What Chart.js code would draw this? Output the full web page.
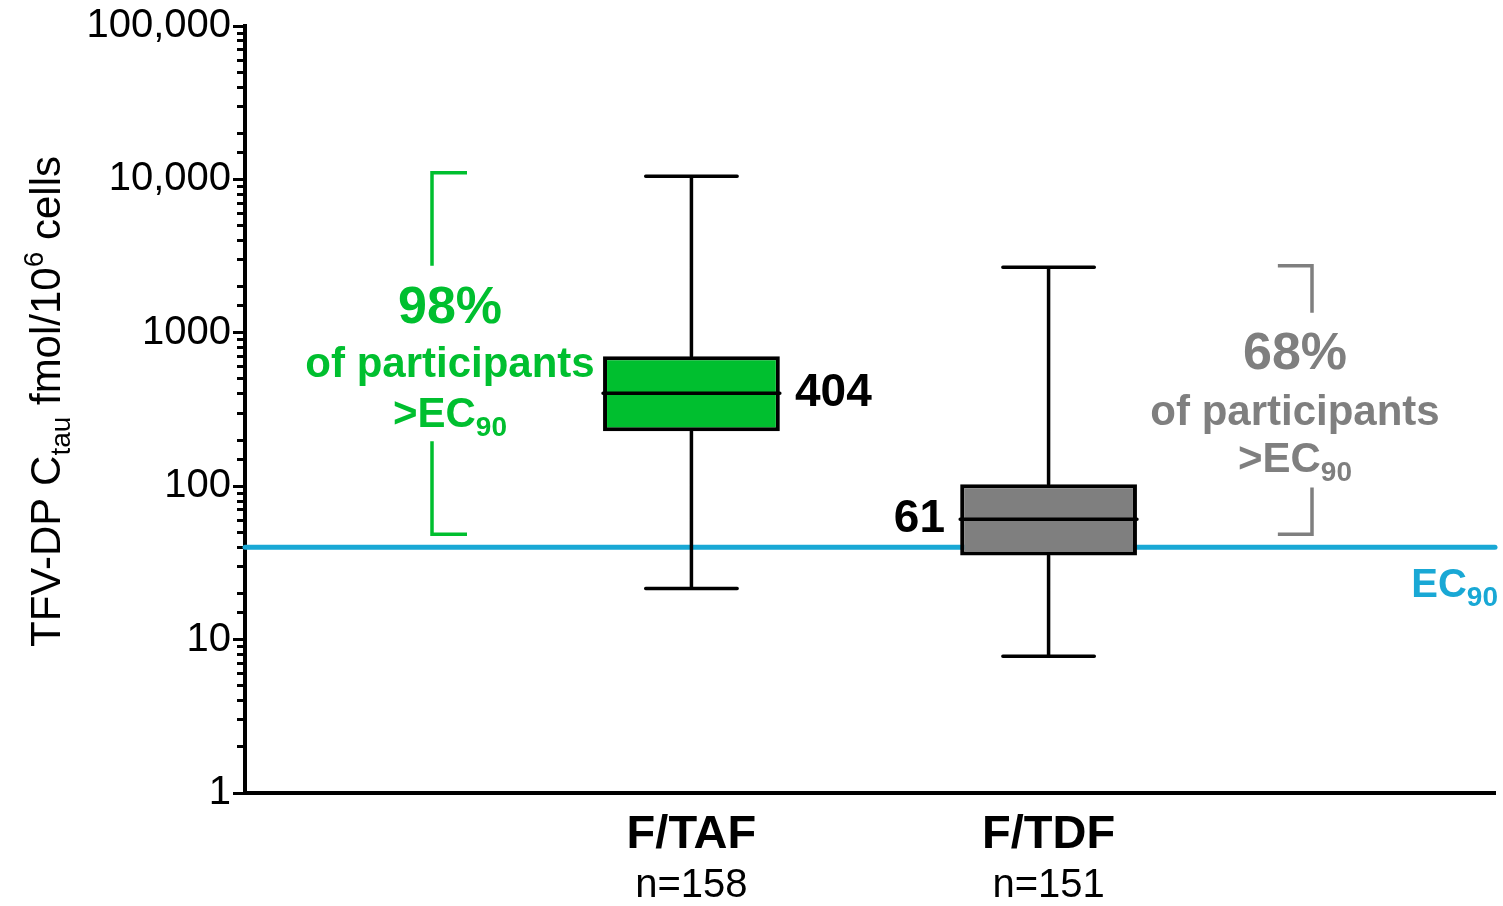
<!DOCTYPE html>
<html>
<head>
<meta charset="utf-8">
<script src="https://cdn.jsdelivr.net/npm/chart.js@4.4.1/dist/chart.umd.min.js"></script>
<style>
  html, body { margin: 0; padding: 0; background: #fff; }
  #wrap { width: 1503px; height: 906px; }
</style>
</head>
<body>
<div id="wrap"><canvas id="chart"></canvas></div>
<script>
const categories = ["F/TAF", "F/TDF"];
const sampleSizes = ["n=158", "n=151"];
const whiskerLow = [21.5, 7.8];
const q1 = [228, 35.3];
const median = [404, 61];
const q3 = [703, 103];
const whiskerHigh = [10500, 2670];
const ec90 = 40;
const pctAbove = ["98%", "68%"];
const yTickLabels = ["1", "10", "100", "1000", "10,000", "100,000"];

const FONT = "'Liberation Sans', Arial, sans-serif";
const GREEN = "#00bf2f";
const GRAY = "#7f7f7f";
const BLUE = "#19a8d5";
const boxColors = [GREEN, GRAY];

// groups sit on a plain linear x axis (0..3.5)
const X_MAX = 3.5;
const xPos = [1.25, 2.25];
const capHalf = 0.128;
const boxHalf = 0.2475;

// brackets next to each group, spanning the share of participants above EC90
const brackets = [
  { color: GREEN, x: 0.5236, tipX: 0.6216, top: 11040, gapTop: 2738, gapBottom: 196, bottom: 48.6 },
  { color: GRAY, x: 2.9876, tipX: 2.892, top: 2738, gapTop: 1353, gapBottom: 98, bottom: 48.6 }
];
const notes = [
  { color: GREEN, x: 0.574, lines: [
    { parts: [{ t: pctAbove[0], size: 52 }], y: 1165 },
    { parts: [{ t: "of participants", size: 42 }], y: 518 },
    { parts: [{ t: ">EC", size: 42 }, { t: "90", size: 28, dy: 9 }], y: 241.5 }
  ]},
  { color: GRAY, x: 2.94, lines: [
    { parts: [{ t: pctAbove[1], size: 52 }], y: 585 },
    { parts: [{ t: "of participants", size: 42 }], y: 249 },
    { parts: [{ t: ">EC", size: 42 }, { t: "90", size: 28, dy: 9 }], y: 123 }
  ]}
];

const isDecade = v => Math.abs(Math.log10(v) - Math.round(Math.log10(v))) < 1e-9;

// whiskers, caps and median lines as one broken line
const whiskerPts = [];
xPos.forEach((x, i) => {
  whiskerPts.push({ x, y: q3[i] }, { x, y: whiskerHigh[i] }, { x, y: null });
  whiskerPts.push({ x: x - capHalf, y: whiskerHigh[i] }, { x: x + capHalf, y: whiskerHigh[i] }, { x, y: null });
  whiskerPts.push({ x, y: q1[i] }, { x, y: whiskerLow[i] }, { x, y: null });
  whiskerPts.push({ x: x - capHalf, y: whiskerLow[i] }, { x: x + capHalf, y: whiskerLow[i] }, { x, y: null });
  whiskerPts.push({ x: x - boxHalf, y: median[i] }, { x: x + boxHalf, y: median[i] }, { x, y: null });
});

const bracketSets = brackets.map(b => ({
  type: "line",
  data: [
    { x: b.tipX, y: b.top }, { x: b.x, y: b.top }, { x: b.x, y: b.gapTop }, { x: b.x, y: null },
    { x: b.x, y: b.gapBottom }, { x: b.x, y: b.bottom }, { x: b.tipX, y: b.bottom }
  ],
  borderColor: b.color,
  borderWidth: 3.5,
  borderJoinStyle: "miter",
  pointRadius: 0,
  spanGaps: false,
  clip: false,
  order: 0
}));

function drawParts(ctx, parts, x, y, align, color) {
  const widths = parts.map(p => {
    ctx.font = "bold " + p.size + "px " + FONT;
    return ctx.measureText(p.t).width;
  });
  const total = widths.reduce((a, b) => a + b, 0);
  let cx = align === "center" ? x - total / 2 : align === "right" ? x - total : x;
  ctx.fillStyle = color;
  ctx.textAlign = "left";
  parts.forEach((p, i) => {
    ctx.font = "bold " + p.size + "px " + FONT;
    ctx.fillText(p.t, cx, y + (p.dy || 0));
    cx += widths[i];
  });
}

const textPlugin = {
  id: "notes",
  afterDraw(chart) {
    const { ctx, chartArea } = chart;
    const xs = chart.scales.x, ys = chart.scales.y;
    ctx.save();
    ctx.textBaseline = "alphabetic";
    notes.forEach(n => {
      n.lines.forEach(l => drawParts(ctx, l.parts, xs.getPixelForValue(n.x), ys.getPixelForValue(l.y), "center", n.color));
    });

    // median values beside the boxes
    ctx.textBaseline = "middle";
    drawParts(ctx, [{ t: String(median[0]), size: 46 }], xs.getPixelForValue(xPos[0] + 0.29), ys.getPixelForValue(median[0]), "left", "#000");
    drawParts(ctx, [{ t: String(median[1]), size: 46 }], xs.getPixelForValue(xPos[1] - 0.29), ys.getPixelForValue(median[1]), "right", "#000");

    // EC90 label under the line
    ctx.textBaseline = "alphabetic";
    drawParts(ctx, [{ t: "EC", size: 40 }, { t: "90", size: 28, dy: 9 }],
      xs.getPixelForValue(X_MAX) + 3, ys.getPixelForValue(18.9), "right", BLUE);

    // y axis title with sub/superscript
    const pieces = [
      { t: "TFV-DP C", size: 42, dy: 0 },
      { t: "tau", size: 28, dy: 10 },
      { t: " fmol/10", size: 42, dy: 0 },
      { t: "6", size: 28, dy: -17 },
      { t: " cells", size: 42, dy: 0 }
    ];
    ctx.translate(60, (chartArea.top + chartArea.bottom) / 2 - 8);
    ctx.rotate(-Math.PI / 2);
    const widths = pieces.map(p => { ctx.font = p.size + "px " + FONT; return ctx.measureText(p.t).width; });
    let px = -widths.reduce((a, b) => a + b, 0) / 2;
    ctx.fillStyle = "#000";
    ctx.textAlign = "left";
    pieces.forEach((p, i) => {
      ctx.font = p.size + "px " + FONT;
      ctx.fillText(p.t, px, p.dy);
      px += widths[i];
    });
    ctx.restore();
  }
};

const xTicks = s => { s.ticks = xPos.map(v => ({ value: v })); };

new Chart(document.getElementById("chart"), {
  type: "bar",
  data: {
    datasets: [
      {
        type: "line",
        label: "whiskers",
        data: whiskerPts,
        borderColor: "#000",
        borderWidth: 3.5,
        borderCapStyle: "round",
        pointRadius: 0,
        spanGaps: false,
        clip: false,
        order: 0
      },
      ...bracketSets,
      {
        type: "bar",
        label: "IQR",
        data: xPos.map((x, i) => ({ x, y: [q1[i], q3[i]] })),
        backgroundColor: boxColors,
        borderColor: "#000",
        borderWidth: 4,
        borderSkipped: false,
        barPercentage: 0.495,
        categoryPercentage: 1,
        order: 1
      },
      {
        type: "line",
        label: "EC90",
        data: [{ x: 0, y: ec90 }, { x: X_MAX, y: ec90 }],
        borderColor: BLUE,
        borderWidth: 5,
        borderCapStyle: "round",
        pointRadius: 0,
        clip: false,
        order: 2
      }
    ]
  },
  options: {
    responsive: true,
    maintainAspectRatio: false,
    animation: false,
    layout: { padding: { top: 25, right: 8, left: 0, bottom: 0 } },
    plugins: { legend: { display: false }, tooltip: { enabled: false } },
    scales: {
      x: {
        type: "linear", min: 0, max: X_MAX, offset: false, position: "bottom", weight: 0,
        afterBuildTicks: xTicks,
        afterFit: s => { s.height = 60; },
        grid: { display: false, drawTicks: false },
        border: { display: true, color: "#000", width: 4 },
        ticks: {
          autoSkip: false, maxRotation: 0, padding: 14, color: "#000",
          font: { family: FONT, size: 47, weight: "bold" },
          callback: (v, i) => categories[i]
        }
      },
      x2: {
        type: "linear", min: 0, max: X_MAX, offset: false, position: "bottom", weight: 1,
        afterBuildTicks: xTicks,
        afterFit: s => { s.height = 53; },
        grid: { display: false, drawTicks: false },
        border: { display: false },
        ticks: {
          autoSkip: false, maxRotation: 0, padding: 9, color: "#000",
          font: { family: FONT, size: 40 },
          callback: (v, i) => sampleSizes[i]
        }
      },
      y: {
        type: "logarithmic", min: 1, max: 100000,
        afterFit: s => { s.width = 245; },
        border: { color: "#000", width: 4 },
        grid: {
          display: true, drawOnChartArea: false, drawTicks: true,
          tickLength: 12, tickWidth: 3, tickColor: "#000",
          tickBorderDash: c => isDecade(c.tick.value) ? [] : [6, 100],
          tickBorderDashOffset: c => isDecade(c.tick.value) ? 0 : 102
        },
        ticks: {
          autoSkip: false, padding: 2, color: "#000",
          font: { family: FONT, size: 40 },
          callback: v => isDecade(v) ? yTickLabels[Math.round(Math.log10(v))] : ""
        }
      }
    }
  },
  plugins: [textPlugin]
});
</script>
</body>
</html>
